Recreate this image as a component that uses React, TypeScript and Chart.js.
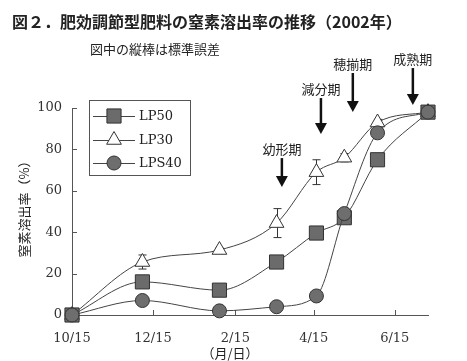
import React, { useEffect, useRef } from "react";
import { Chart, registerables } from "chart.js";

Chart.register(...registerables);

// ---- data ----
const tickDays = [0, 61, 123, 182, 243];
const tickLabels = ["10/15", "12/15", "2/15", "4/15", "6/15"];
const sampleDays = [0, 53, 111, 154, 184, 205, 230, 268];
const lp50 = [0, 16, 12, 25.6, 39.6, 47, 75, 98];
const lp30 = [0, 25.6, 31.4, 44.4, 69, 76, 93, 98];
const lps40 = [0, 7, 2, 4, 9.2, 49, 88, 98];
const lp50Err = [0, 2.5, 1, 1.5, 1.5, 1.5, 2, 1];
const lp30Err = [0, 3.4, 1, 7, 6, 2, 1.5, 1];
const lps40Err = [0, 2, 0.5, 0.5, 2, 2, 1.5, 1];
const yTicks = [0, 20, 40, 60, 80, 100];

const stageNames = ["幼形期", "減分期", "穂揃期", "成熟期"];
const stageDays = [158, 187.4, 211.4, 256.6];
const stageTop = [75.8, 104.8, 116.9, 119.3];
const stageTip = [61.8, 87.4, 98.1, 101.4];

const titleText = "図２．肥効調節型肥料の窒素溶出率の推移（2002年）";
const subtitleText = "図中の縦棒は標準誤差";
const yTitle = "窒素溶出率（%）";
const xTitle = "（月/日）";

const JP = '"Noto Sans CJK JP", sans-serif';
const SERIF = '"DejaVu Serif", serif';

const series = [
  { label: "LP50", values: lp50, errs: lp50Err, style: "rect", fill: "#6b6b6b", radius: 10, order: 1 },
  { label: "LP30", values: lp30, errs: lp30Err, style: "triangle", fill: "#ffffff", radius: 8.5, order: 2 },
  { label: "LPS40", values: lps40, errs: lps40Err, style: "circle", fill: "#6e6e6e", radius: 7, order: 0 },
];

function drawMarker(ctx: CanvasRenderingContext2D, style: string, x: number, y: number, r: number, fill: string) {
  ctx.save();
  ctx.fillStyle = fill;
  ctx.strokeStyle = "#333";
  ctx.lineWidth = 1;
  ctx.beginPath();
  if (style === "rect") {
    const s = Math.SQRT1_2 * r;
    ctx.rect(x - s, y - s, 2 * s, 2 * s);
  } else if (style === "triangle") {
    let a = 0;
    ctx.moveTo(x + Math.sin(a) * r, y - Math.cos(a) * r);
    a += (2 * Math.PI) / 3;
    ctx.lineTo(x + Math.sin(a) * r, y - Math.cos(a) * r);
    a += (2 * Math.PI) / 3;
    ctx.lineTo(x + Math.sin(a) * r, y - Math.cos(a) * r);
    ctx.closePath();
  } else {
    ctx.arc(x, y, r, 0, Math.PI * 2);
  }
  ctx.fill();
  ctx.stroke();
  ctx.restore();
}

const decor = {
  id: "decor",
  beforeDatasetsDraw(chart: any) {
    const { ctx, scales } = chart;
    const x = scales.x;
    const y = scales.y;
    ctx.save();
    ctx.strokeStyle = "#555";
    ctx.lineWidth = 1;
    tickDays.forEach((d) => {
      const px = Math.round(x.getPixelForValue(d)) + 0.5;
      ctx.beginPath();
      ctx.moveTo(px, y.bottom);
      ctx.lineTo(px, y.bottom - 5);
      ctx.stroke();
    });
    yTicks.forEach((v) => {
      const py = Math.round(y.getPixelForValue(v)) + 0.5;
      ctx.beginPath();
      ctx.moveTo(x.left, py);
      ctx.lineTo(x.left + 5, py);
      ctx.stroke();
    });
    // error bars
    ctx.strokeStyle = "#333";
    series.forEach((s) => {
      s.values.forEach((v, i) => {
        const e = s.errs[i];
        if (!e) return;
        const px = Math.round(x.getPixelForValue(sampleDays[i])) + 0.5;
        const top = y.getPixelForValue(v + e);
        const bot = y.getPixelForValue(v - e);
        ctx.beginPath();
        ctx.moveTo(px, top);
        ctx.lineTo(px, bot);
        ctx.moveTo(px - 4, top);
        ctx.lineTo(px + 4, top);
        ctx.moveTo(px - 4, bot);
        ctx.lineTo(px + 4, bot);
        ctx.stroke();
      });
    });
    ctx.restore();
  },
  afterDraw(chart: any) {
    const { ctx, scales } = chart;
    const x = scales.x;
    const y = scales.y;
    ctx.save();
    ctx.fillStyle = "#222";
    // title
    ctx.font = `bold 16px ${JP}`;
    ctx.textAlign = "left";
    ctx.textBaseline = "middle";
    ctx.fillText(titleText, 12, 22);
    ctx.font = `13px ${JP}`;
    ctx.fillText(subtitleText, 90, 49);
    // axis titles
    ctx.textAlign = "center";
    ctx.fillText(xTitle, 230, 353);
    ctx.save();
    ctx.translate(24, 206);
    ctx.rotate(-Math.PI / 2);
    ctx.fillText(yTitle, 0, 0);
    ctx.restore();
    // stage arrows
    stageNames.forEach((name, i) => {
      const px = x.getPixelForValue(stageDays[i]);
      const top = y.getPixelForValue(stageTop[i]);
      const tip = y.getPixelForValue(stageTip[i]);
      ctx.strokeStyle = "#111";
      ctx.fillStyle = "#111";
      ctx.lineWidth = 2.5;
      ctx.beginPath();
      ctx.moveTo(px, top);
      ctx.lineTo(px, tip - 9);
      ctx.stroke();
      ctx.beginPath();
      ctx.moveTo(px - 6, tip - 11);
      ctx.lineTo(px + 6, tip - 11);
      ctx.lineTo(px, tip);
      ctx.closePath();
      ctx.fill();
      ctx.fillStyle = "#222";
      ctx.font = `13px ${JP}`;
      ctx.textAlign = "center";
      ctx.textBaseline = "middle";
      ctx.fillText(name, px, top - 9);
    });
    // legend
    const lx = 89, ly = 100, lw = 101, lh = 75;
    ctx.fillStyle = "#fff";
    ctx.fillRect(lx, ly, lw, lh);
    ctx.strokeStyle = "#555";
    ctx.lineWidth = 1;
    ctx.strokeRect(lx + 0.5, ly + 0.5, lw, lh);
    const rows = [116, 140, 163];
    series.forEach((s, i) => {
      const ry = rows[i];
      ctx.strokeStyle = "#444";
      ctx.lineWidth = 1;
      ctx.beginPath();
      ctx.moveTo(93, ry + 0.5);
      ctx.lineTo(135, ry + 0.5);
      ctx.stroke();
      drawMarker(ctx, s.style, 114, ry, s.radius, s.fill);
      ctx.fillStyle = "#222";
      ctx.font = `13px ${SERIF}`;
      ctx.textAlign = "left";
      ctx.textBaseline = "middle";
      ctx.fillText(s.label, 139, ry + 1);
    });
    ctx.restore();
  },
};

export default function App() {
  const ref = useRef<HTMLCanvasElement | null>(null);
  useEffect(() => {
    if (!ref.current) return;
    const chart = new Chart(ref.current, {
      type: "line",
      data: {
        datasets: series.map((s) => ({
          label: s.label,
          data: sampleDays.map((d, i) => ({ x: d, y: s.values[i] })),
          borderColor: "#444",
          borderWidth: 1,
          backgroundColor: s.fill,
          pointBackgroundColor: s.fill,
          pointBorderColor: "#333",
          pointBorderWidth: 1,
          pointStyle: s.style as any,
          pointRadius: s.radius,
          cubicInterpolationMode: "monotone" as const,
          clip: false as any,
          order: s.order,
        })),
      },
      options: {
        animation: false,
        responsive: true,
        maintainAspectRatio: false,
        layout: { padding: { left: 0, right: 39, top: 108, bottom: 0 } },
        plugins: { legend: { display: false }, tooltip: { enabled: false }, title: { display: false } },
        scales: {
          x: {
            type: "linear",
            min: 0,
            max: 268,
            grid: { display: false, drawTicks: false },
            border: { display: true, color: "#555", width: 1 },
            afterBuildTicks: (scale: any) => {
              scale.ticks = tickDays.map((v) => ({ value: v }));
            },
            afterFit: (scale: any) => {
              scale.height = 46;
            },
            ticks: {
              padding: 16,
              autoSkip: false,
              maxRotation: 0,
              color: "#333",
              font: { family: "DejaVu Serif", size: 13 },
              callback: (v: any) => {
                const i = tickDays.indexOf(Number(v));
                return i >= 0 ? tickLabels[i] : "";
              },
            },
          },
          y: {
            min: 0,
            max: 100,
            grid: { display: false, drawTicks: false },
            border: { display: true, color: "#555", width: 1 },
            afterBuildTicks: (scale: any) => {
              scale.ticks = yTicks.map((v) => ({ value: v }));
            },
            afterFit: (scale: any) => {
              scale.width = 72;
            },
            ticks: {
              padding: 10,
              color: "#333",
              font: { family: "DejaVu Serif", size: 13 },
            },
          },
        },
      },
      plugins: [decor],
    });
    return () => chart.destroy();
  }, []);
  return (
    <div style={{ position: "fixed", left: 0, top: 0, width: 467, height: 361, background: "#fff" }}>
      <canvas ref={ref} />
    </div>
  );
}
